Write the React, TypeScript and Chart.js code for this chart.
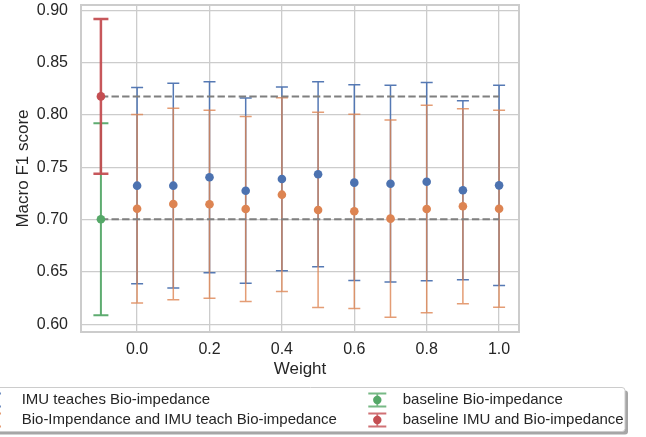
import React, { useEffect, useRef } from "react";
import { Chart, registerables } from "chart.js";

Chart.register(...registerables);

const weights = [0.0, 0.1, 0.2, 0.3, 0.4, 0.5, 0.6, 0.7, 0.8, 0.9, 1.0];
const imuTeachMean = [0.7324, 0.7324, 0.7404, 0.7276, 0.7388, 0.7433, 0.7353, 0.7343, 0.7362, 0.728, 0.7327];
const imuTeachErr = [0.0938, 0.0978, 0.0913, 0.0885, 0.0878, 0.0884, 0.0935, 0.094, 0.0947, 0.0855, 0.0957];
const bothTeachMean = [0.7104, 0.7149, 0.7146, 0.7101, 0.7238, 0.7092, 0.7079, 0.7009, 0.7101, 0.7127, 0.7104];
const bothTeachErr = [0.0901, 0.0915, 0.0898, 0.0884, 0.0926, 0.0933, 0.0928, 0.0942, 0.0991, 0.0931, 0.0941];
const baselineX = [-0.1];
const baselineBioMean = [0.7003];
const baselineBioErr = [0.0917];
const baselineFusionMean = [0.8177];
const baselineFusionErr = [0.0739];
const yTickValues = [0.6, 0.65, 0.7, 0.75, 0.8, 0.85, 0.9];
const xTickValues = [0.0, 0.2, 0.4, 0.6, 0.8, 1.0];
const seriesLabels = [
  "IMU teaches Bio-impedance",
  "Bio-Impendance and IMU teach Bio-impedance",
  "baseline Bio-impedance",
  "baseline IMU and Bio-impedance",
];

const BLUE = "#4C72B0";
const ORANGE = "#DD8452";
const GREEN = "#55A868";
const RED = "#C44E52";
const TEXT = "#262626";
const GRID = "#cccccc";
const FONT = '"Liberation Sans", Arial, sans-serif';

const errorStyles: Record<number, { color: string; width: number; cap: number }> = {
  0: { color: "rgba(76,114,176,0.95)", width: 1.5, cap: 6 },
  1: { color: "rgba(221,132,82,0.8)", width: 1.5, cap: 6 },
  2: { color: "rgba(85,168,104,0.95)", width: 2, cap: 7.5 },
  3: { color: "rgba(196,78,82,0.95)", width: 2.5, cap: 7.5 },
};
const errorDrawOrder = [2, 3, 0, 1];

const framePlugin = {
  id: "frameAndErrors",
  beforeDatasetsDraw(chart: any) {
    const ctx = chart.ctx;
    const a = chart.chartArea;
    ctx.save();
    ctx.strokeStyle = GRID;
    ctx.lineWidth = 2;
    ctx.strokeRect(a.left, a.top, a.right - a.left, a.bottom - a.top);
    ctx.restore();

    const yScale = chart.scales.y;
    errorDrawOrder.forEach((i) => {
      const ds = chart.data.datasets[i];
      const errs = ds.errorBars as number[] | undefined;
      if (!errs) return;
      const st = errorStyles[i];
      const meta = chart.getDatasetMeta(i);
      ctx.save();
      ctx.strokeStyle = st.color;
      ctx.lineWidth = st.width;
      meta.data.forEach((pt: any, j: number) => {
        const v = ds.data[j].y;
        const yTop = yScale.getPixelForValue(v + errs[j]);
        const yBot = yScale.getPixelForValue(v - errs[j]);
        const x = pt.x;
        ctx.beginPath();
        ctx.moveTo(x, yTop);
        ctx.lineTo(x, yBot);
        ctx.moveTo(x - st.cap, yTop);
        ctx.lineTo(x + st.cap, yTop);
        ctx.moveTo(x - st.cap, yBot);
        ctx.lineTo(x + st.cap, yBot);
        ctx.stroke();
      });
      ctx.restore();
    });
  },
};

function roundRect(ctx: CanvasRenderingContext2D, x: number, y: number, w: number, h: number, r: number) {
  ctx.beginPath();
  ctx.moveTo(x + r, y);
  ctx.lineTo(x + w - r, y);
  ctx.quadraticCurveTo(x + w, y, x + w, y + r);
  ctx.lineTo(x + w, y + h - r);
  ctx.quadraticCurveTo(x + w, y + h, x + w - r, y + h);
  ctx.lineTo(x + r, y + h);
  ctx.quadraticCurveTo(x, y + h, x, y + h - r);
  ctx.lineTo(x, y + r);
  ctx.quadraticCurveTo(x, y, x + r, y);
  ctx.closePath();
}

function drawHandle(ctx: CanvasRenderingContext2D, x: number, y: number, lineColor: string, dotColor: string) {
  ctx.save();
  ctx.strokeStyle = lineColor;
  ctx.lineWidth = 1.8;
  ctx.beginPath();
  ctx.moveTo(x, y - 6.5);
  ctx.lineTo(x, y + 6.5);
  ctx.moveTo(x - 9, y - 6.5);
  ctx.lineTo(x + 9, y - 6.5);
  ctx.moveTo(x - 9, y + 6.5);
  ctx.lineTo(x + 9, y + 6.5);
  ctx.stroke();
  ctx.fillStyle = dotColor;
  ctx.beginPath();
  ctx.arc(x, y, 4.2, 0, Math.PI * 2);
  ctx.fill();
  ctx.restore();
}

const legendPlugin = {
  id: "customLegend",
  afterDraw(chart: any) {
    const ctx: CanvasRenderingContext2D = chart.ctx;
    const bx = -20;
    const by = 387.5;
    const bw = 625 - bx;
    const bh = 431.5 - by;
    ctx.save();
    roundRect(ctx, bx + 3, by + 3, bw, bh, 3);
    ctx.fillStyle = "rgba(77,77,77,0.5)";
    ctx.fill();
    roundRect(ctx, bx, by, bw, bh, 3);
    ctx.fillStyle = "#ffffff";
    ctx.fill();
    ctx.strokeStyle = GRID;
    ctx.lineWidth = 1;
    ctx.stroke();

    const rows = [400, 420];
    drawHandle(ctx, -8, rows[0], "rgba(76,114,176,0.8)", BLUE);
    drawHandle(ctx, -8, rows[1], "rgba(221,132,82,0.8)", ORANGE);
    drawHandle(ctx, 377.3, rows[0], "rgba(85,168,104,0.8)", GREEN);
    drawHandle(ctx, 377.3, rows[1], "rgba(196,78,82,0.8)", RED);

    ctx.fillStyle = TEXT;
    ctx.font = `15px ${FONT}`;
    ctx.textBaseline = "middle";
    ctx.textAlign = "left";
    ctx.fillText(seriesLabels[0], 21.7, rows[0]);
    ctx.fillText(seriesLabels[1], 21.7, rows[1]);
    ctx.fillText(seriesLabels[2], 402.7, rows[0]);
    ctx.fillText(seriesLabels[3], 402.7, rows[1]);
    ctx.restore();
  },
};

export default function App() {
  const canvasRef = useRef<HTMLCanvasElement | null>(null);

  useEffect(() => {
    const canvas = canvasRef.current;
    if (!canvas) return;
    const lastW = weights[weights.length - 1];
    const pointDs = (label: string, xs: number[], ys: number[], errs: number[], color: string) => ({
      type: "scatter" as const,
      label,
      data: xs.map((x, i) => ({ x, y: ys[i] })),
      errorBars: errs,
      backgroundColor: color,
      borderColor: color,
      borderWidth: 0,
      pointRadius: 4.3,
      pointHoverRadius: 4.3,
    });
    const dashDs = (y: number) => ({
      type: "line" as const,
      label: "",
      data: [
        { x: baselineX[0], y },
        { x: lastW, y },
      ],
      borderColor: "#7f7f7f",
      borderWidth: 2,
      borderDash: [7.4, 3.2],
      pointRadius: 0,
      fill: false,
    });

    const chart = new Chart(canvas, {
      type: "scatter",
      data: {
        datasets: [
          pointDs(seriesLabels[0], weights, imuTeachMean, imuTeachErr, BLUE),
          pointDs(seriesLabels[1], weights, bothTeachMean, bothTeachErr, ORANGE),
          pointDs(seriesLabels[2], baselineX, baselineBioMean, baselineBioErr, GREEN),
          pointDs(seriesLabels[3], baselineX, baselineFusionMean, baselineFusionErr, RED),
          dashDs(baselineFusionMean[0]),
          dashDs(baselineBioMean[0]),
        ] as any,
      },
      options: {
        responsive: false,
        animation: false,
        devicePixelRatio: 1,
        layout: { padding: { left: 0, right: 127, top: 5, bottom: 0 } },
        plugins: {
          legend: { display: false },
          tooltip: { enabled: false },
        },
        scales: {
          x: {
            type: "linear",
            min: -0.155,
            max: 1.055,
            afterFit: (s: any) => {
              s.height = 105;
              s.paddingLeft = 0;
              s.paddingRight = 0;
            },
            afterBuildTicks: (s: any) => {
              s.ticks = xTickValues.map((v) => ({ value: v }));
            },
            ticks: {
              callback: (v: any) => Number(v).toFixed(1),
              font: { size: 16, family: FONT },
              color: TEXT,
              padding: 8,
              maxRotation: 0,
              autoSkip: false,
            },
            grid: { color: GRID, lineWidth: 1.3, drawTicks: false },
            border: { display: false },
            title: {
              display: true,
              text: "Weight",
              font: { size: 17, family: FONT },
              color: TEXT,
              padding: { top: 0, bottom: 57 },
            },
          },
          y: {
            type: "linear",
            min: 0.5926,
            max: 0.905,
            afterFit: (s: any) => {
              s.width = 81;
              s.paddingTop = 0;
              s.paddingBottom = 0;
            },
            afterBuildTicks: (s: any) => {
              s.ticks = yTickValues.map((v) => ({ value: v }));
            },
            ticks: {
              callback: (v: any) => Number(v).toFixed(2),
              font: { size: 16, family: FONT },
              color: TEXT,
              padding: 13,
              autoSkip: false,
            },
            grid: { color: GRID, lineWidth: 1.3, drawTicks: false },
            border: { display: false },
            title: {
              display: true,
              text: "Macro F1 score",
              font: { size: 17, family: FONT },
              color: TEXT,
              padding: { top: 12.9, bottom: 0 },
            },
          },
        },
      },
      plugins: [framePlugin, legendPlugin],
    });
    return () => chart.destroy();
  }, []);

  return (
    <div style={{ position: "absolute", left: 0, top: 0, width: 646, height: 437 }}>
      <canvas ref={canvasRef} width={646} height={437} style={{ display: "block", width: 646, height: 437 }} />
    </div>
  );
}
